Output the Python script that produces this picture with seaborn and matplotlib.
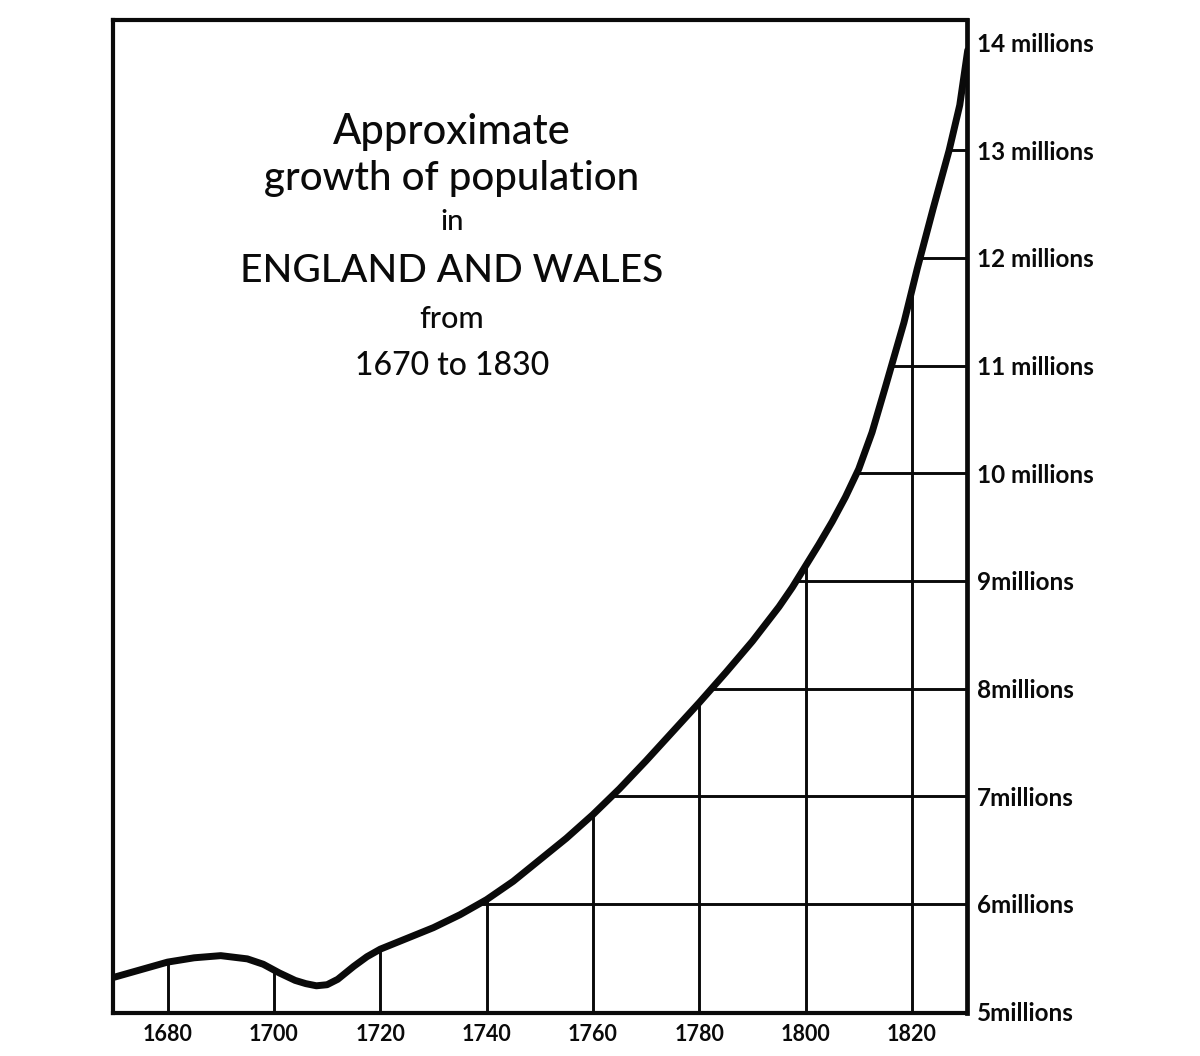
import numpy as np
import pandas as pd
import matplotlib
matplotlib.use("Agg")
import matplotlib.pyplot as plt
import seaborn as sns

# ---- data ----
years = [1670, 1675, 1680, 1685, 1690, 1695, 1698, 1701, 1704, 1706, 1708, 1710,
         1712, 1715, 1717.5, 1720, 1725, 1730, 1735, 1740, 1745, 1750, 1755, 1760,
         1765, 1770, 1775, 1780, 1785, 1790, 1795, 1797.5, 1800, 1802.5, 1805,
         1807.5, 1810, 1812.5, 1815, 1818.5, 1821, 1824, 1827, 1829, 1830.5]
population = [5.32, 5.39, 5.46, 5.50, 5.52, 5.49, 5.44, 5.36, 5.29, 5.26, 5.24, 5.25,
              5.30, 5.42, 5.51, 5.58, 5.68, 5.78, 5.90, 6.04, 6.21, 6.41, 6.61, 6.83,
              7.07, 7.33, 7.60, 7.87, 8.15, 8.44, 8.76, 8.94, 9.14, 9.34, 9.55,
              9.78, 10.04, 10.38, 10.80, 11.40, 11.90, 12.46, 13.00, 13.42, 13.93]
year_ticks = [1680, 1700, 1720, 1740, 1760, 1780, 1800, 1820]
minor_year_ticks = [1690, 1710, 1730, 1750, 1770, 1790, 1810]
million_ticks = [5, 6, 7, 8, 9, 10, 11, 12, 13, 14]
million_labels = ["5millions", "6millions", "7millions", "8millions", "9millions",
                  "10 millions", "11 millions", "12 millions", "13 millions", "14 millions"]
title_lines = ["Approximate", "growth of population", "in", "ENGLAND AND WALES",
               "from", "1670 to 1830"]

df = pd.DataFrame({"year": years, "population": population})

sns.set_style("white")
plt.rcParams["font.family"] = ["Lato", "DejaVu Sans"]

fig = plt.figure(figsize=(12, 10.56), dpi=100)
ax = fig.add_axes([0.094, 0.041, 0.712, 0.940])

ink = "#0a0a0a"

# grid: vertical lines from axis up to curve
for yr in year_ticks:
    ax.plot([yr, yr], [4.99, np.interp(yr, years, population)], color=ink, lw=2.1,
            solid_capstyle="butt", zorder=2)
# horizontal lines from curve to right axis
start = years.index(1710)
mono_years = years[start:]
mono_pop = population[start:]
for m in million_ticks[1:-1]:
    xc = np.interp(m, mono_pop, mono_years)
    ax.plot([xc, 1831], [m, m], color=ink, lw=2.1, solid_capstyle="butt", zorder=2)

sns.lineplot(data=df, x="year", y="population", ax=ax, color=ink, lw=5.0,
             zorder=3, solid_capstyle="round", solid_joinstyle="round")

ax.set_xlim(1669.7, 1830.4)
ax.set_ylim(4.99, 14.21)

for s in ax.spines.values():
    s.set_visible(True)
    s.set_color(ink)
    s.set_linewidth(3.0)
ax.spines["right"].set_linewidth(3.4)

ax.set_xticks(year_ticks)
ax.set_xticklabels([str(y) for y in year_ticks], fontsize=15.5)
ax.set_xticks(minor_year_ticks, minor=True)
ax.tick_params(axis="x", which="major", length=0, pad=8, colors=ink)
ax.tick_params(axis="x", which="minor", length=4, width=2.5, direction="out", colors=ink)

ax.yaxis.tick_right()
ax.set_yticks(million_ticks)
ax.set_yticklabels(million_labels, fontsize=17.5)
ax.tick_params(axis="y", which="major", length=0, pad=7, colors=ink)
for lbl in ax.get_yticklabels():
    lbl.set_fontweight("bold")
for lbl in ax.get_xticklabels():
    lbl.set_fontweight("bold")

ax.set_xlabel("")
ax.set_ylabel("")

# title block in the upper left of the plot
title_y = [132, 179, 222, 271, 319, 366]
title_sizes = [30, 29, 21, 28, 22, 23]
for txt, yp, fs in zip(title_lines, title_y, title_sizes):
    fig.text(452 / 1200, 1 - yp / 1056, txt, ha="center", va="center",
             fontsize=fs, color=ink, fontweight="medium")

fig.savefig("out.png", dpi=100, facecolor="white")
